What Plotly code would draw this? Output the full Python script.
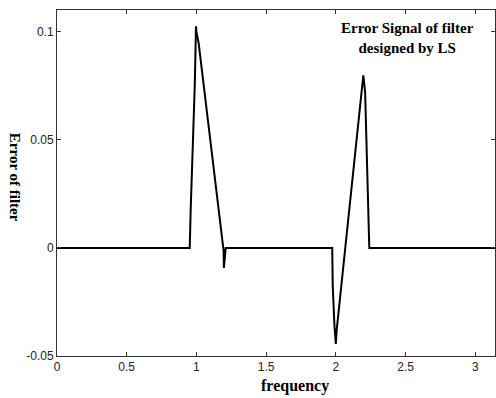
import math
import plotly.graph_objects as go

freq = [0.0, 0.952, 0.959, 0.973, 0.988, 0.997, 1.0, 1.016, 1.195, 1.197, 1.21,
        1.974, 1.978, 1.99, 2.0, 2.006, 2.197, 2.21, 2.225, 2.24, math.pi]
err = [0.0, 0.0, 0.018, 0.043, 0.075, 0.1025, 0.1, 0.0947, -0.0014, -0.0093, 0.0,
       0.0, -0.018, -0.036, -0.0444, -0.038, 0.0798, 0.072, 0.03, 0.0, 0.0]

x_ticks = [0, 0.5, 1, 1.5, 2, 2.5, 3]
x_tick_labels = ["0", "0.5", "1", "1.5", "2", "2.5", "3"]
y_ticks = [-0.05, 0, 0.05, 0.1]
y_tick_labels = ["-0.05", "0", "0.05", "0.1"]

fig = go.Figure()
fig.add_trace(go.Scatter(x=freq, y=err, mode="lines",
                         line=dict(color="black", width=2), showlegend=False,
                         hoverinfo="skip"))

serif = "Liberation Serif, Times New Roman, serif"
sans = "Liberation Sans, Arial, sans-serif"

fig.update_layout(
    width=496, height=398,
    margin=dict(l=57, r=1, t=10, b=42),
    paper_bgcolor="white", plot_bgcolor="white",
    font=dict(family=sans, size=12, color="#222"),
    xaxis=dict(range=[0, math.pi], tickvals=x_ticks, ticktext=x_tick_labels,
               ticks="inside", ticklen=4, tickcolor="#333", mirror="ticks",
               showline=True, linecolor="#333", linewidth=1, showgrid=False,
               zeroline=False),
    yaxis=dict(range=[-0.05, 0.11], tickvals=y_ticks, ticktext=y_tick_labels,
               ticks="inside", ticklen=4, tickcolor="#333", mirror="ticks",
               showline=True, linecolor="#333", linewidth=1, showgrid=False,
               zeroline=False),
    annotations=[
        dict(text="<b>Error Signal of filter<br>designed by LS</b>",
             xref="paper", yref="paper", x=0.801, y=0.919,
             xanchor="center", yanchor="middle", showarrow=False,
             font=dict(family=serif, size=15, color="black")),
        dict(text="<b>frequency</b>", xref="paper", yref="paper",
             x=0.543, y=-0.087, xanchor="center", yanchor="middle",
             showarrow=False, font=dict(family=serif, size=16, color="black")),
        dict(text="<b>Error of filter</b>", xref="paper", yref="paper",
             x=-0.096, y=0.515, xanchor="center", yanchor="middle",
             textangle=90, showarrow=False,
             font=dict(family=serif, size=15, color="black")),
    ],
)

fig.write_html("out.html")
